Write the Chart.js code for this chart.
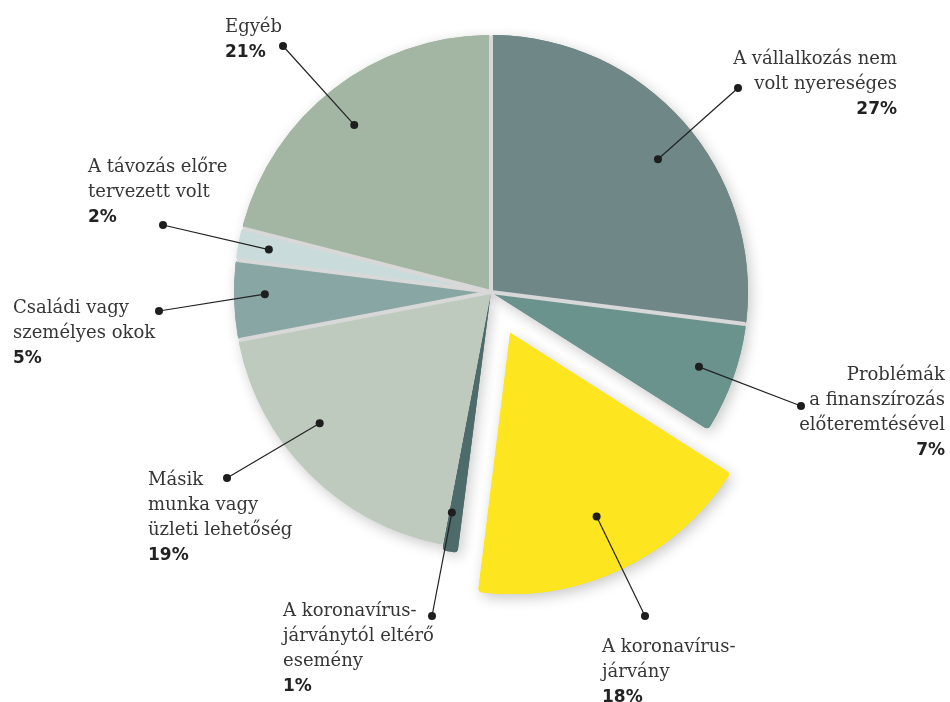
<!DOCTYPE html>
<html lang="hu">
<head>
  <meta charset="UTF-8" />
  <title>A vállalkozás megszűnésének okai</title>
  <script src="https://cdn.jsdelivr.net/npm/chart.js"></script>
  <style>
    body {
      margin: 0;
      background: #fff;
    }

    .grafico {
      position: relative;
      width: 950px;
      height: 702px;
    }
  </style>
</head>
<body>

  <div class="grafico">
    <canvas id="okok"></canvas>
  </div>

  <script>
    // okok (sorokra tördelve) és arányuk százalékban
    const kategoriak = [
      ['A vállalkozás nem', 'volt nyereséges'],
      ['Problémák', 'a finanszírozás', 'előteremtésével'],
      ['A koronavírus-', 'járvány'],
      ['A koronavírus-', 'járványtól eltérő', 'esemény'],
      ['Másik', 'munka vagy', 'üzleti lehetőség'],
      ['Családi vagy', 'személyes okok'],
      ['A távozás előre', 'tervezett volt'],
      ['Egyéb']
    ];
    const ertekek = [27, 7, 18, 1, 19, 5, 2, 21];

    const szinek = ['#6f8787', '#6a938e', '#fde61f', '#4e6b6b', '#bfcabf', '#88a6a3', '#c9dbdb', '#a3b5a3'];
    const kiemeles = [0, 0, 180, 12, 0, 0, 0, 0];

    // feliratok helye: szog/tav = belső pont a szeleten belül, pont = külső pont, x/y = szöveg
    const cimkek = [
      { szog: 0.53, tav: 0.83, pont: [738, 88],  x: 897, y: 64,  igazit: 'right' },
      { szog: 0.50, tav: 0.86, pont: [801, 406], x: 945, y: 380, igazit: 'right' },
      { szog: 0.50, tav: 0.79, pont: [645, 616], x: 602, y: 652, igazit: 'left' },
      { szog: 0.80, tav: 0.86, pont: [432, 616], x: 283, y: 616, igazit: 'left' },
      { szog: 0.61, tav: 0.84, pont: [227, 478], x: 148, y: 485, igazit: 'left' },
      { szog: 0.57, tav: 0.88, pont: [159, 311], x: 13,  y: 313, igazit: 'left' },
      { szog: 0.50, tav: 0.88, pont: [163, 225], x: 88,  y: 172, igazit: 'left' },
      { szog: 0.48, tav: 0.84, pont: [283, 46],  x: 225, y: 32,  igazit: 'left' }
    ];
    const sorkoz = 25;

    // lágy árnyék a szeletek alá
    const arnyek = {
      id: 'arnyek',
      beforeDatasetsDraw(chart) {
        const ctx = chart.ctx;
        ctx.save();
        ctx.shadowColor = 'rgba(0, 0, 0, 0.22)';
        ctx.shadowBlur = 14;
        ctx.shadowOffsetX = 3;
        ctx.shadowOffsetY = 4;
        chart.getDatasetMeta(0).data.forEach(a => a.draw(ctx));
        ctx.restore();
      }
    };

    // szürke választóvonalak a nem kiemelt szeletek között
    const valasztok = {
      id: 'valasztok',
      afterDatasetsDraw(chart) {
        const ctx = chart.ctx;
        const ivek = chart.getDatasetMeta(0).data;
        ctx.save();
        ctx.strokeStyle = '#d8d8d8';
        ctx.lineWidth = 4;
        ivek.forEach((a, i) => {
          const kov = (i + 1) % ivek.length;
          if (kiemeles[i] > 0 || kiemeles[kov] > 0) return;
          const r = a.outerRadius - 1;
          ctx.beginPath();
          ctx.moveTo(a.x, a.y);
          ctx.lineTo(a.x + Math.cos(a.endAngle) * r, a.y + Math.sin(a.endAngle) * r);
          ctx.stroke();
        });
        ctx.restore();
      }
    };

    // vezetővonalak pöttyökkel és a feliratok
    const feliratok = {
      id: 'feliratok',
      afterDraw(chart) {
        const ctx = chart.ctx;
        const ivek = chart.getDatasetMeta(0).data;
        ctx.save();
        ivek.forEach((a, i) => {
          const c = cimkek[i];
          const fel = (a.startAngle + a.endAngle) / 2;
          const el = (kiemeles[i] || 0) / 4;
          const szog = a.startAngle + c.szog * (a.endAngle - a.startAngle);
          const bx = a.x + Math.cos(fel) * el + Math.cos(szog) * a.outerRadius * c.tav;
          const by = a.y + Math.sin(fel) * el + Math.sin(szog) * a.outerRadius * c.tav;

          ctx.strokeStyle = '#222';
          ctx.lineWidth = 1.2;
          ctx.beginPath();
          ctx.moveTo(bx, by);
          ctx.lineTo(c.pont[0], c.pont[1]);
          ctx.stroke();

          ctx.fillStyle = '#1e1e1e';
          [[bx, by], c.pont].forEach(p => {
            ctx.beginPath();
            ctx.arc(p[0], p[1], 4, 0, Math.PI * 2);
            ctx.fill();
          });

          ctx.textAlign = c.igazit;
          ctx.textBaseline = 'alphabetic';
          ctx.fillStyle = '#363636';
          ctx.font = '18px "DejaVu Serif"';
          const sorok = kategoriak[i];
          sorok.forEach((s, j) => ctx.fillText(s, c.x, c.y + j * sorkoz));
          ctx.fillStyle = '#222';
          ctx.font = 'bold 17px "DejaVu Sans"';
          ctx.fillText(ertekek[i] + '%', c.x, c.y + sorok.length * sorkoz);
        });
        ctx.restore();
      }
    };

    new Chart(document.getElementById('okok'), {
      type: 'pie',
      data: {
        labels: kategoriak.map(k => k.join(' ')),
        datasets: [{
          data: ertekek,
          backgroundColor: szinek,
          borderWidth: 0,
          borderRadius: 4,
          offset: kiemeles,
          radius: 257
        }]
      },
      options: {
        responsive: true,
        maintainAspectRatio: false,
        animation: false,
        layout: {
          padding: { left: 32, right: 0, top: 0, bottom: 118 }
        },
        plugins: {
          legend: { display: false },
          tooltip: { enabled: false }
        }
      },
      plugins: [arnyek, valasztok, feliratok]
    });
  </script>

</body>
</html>
